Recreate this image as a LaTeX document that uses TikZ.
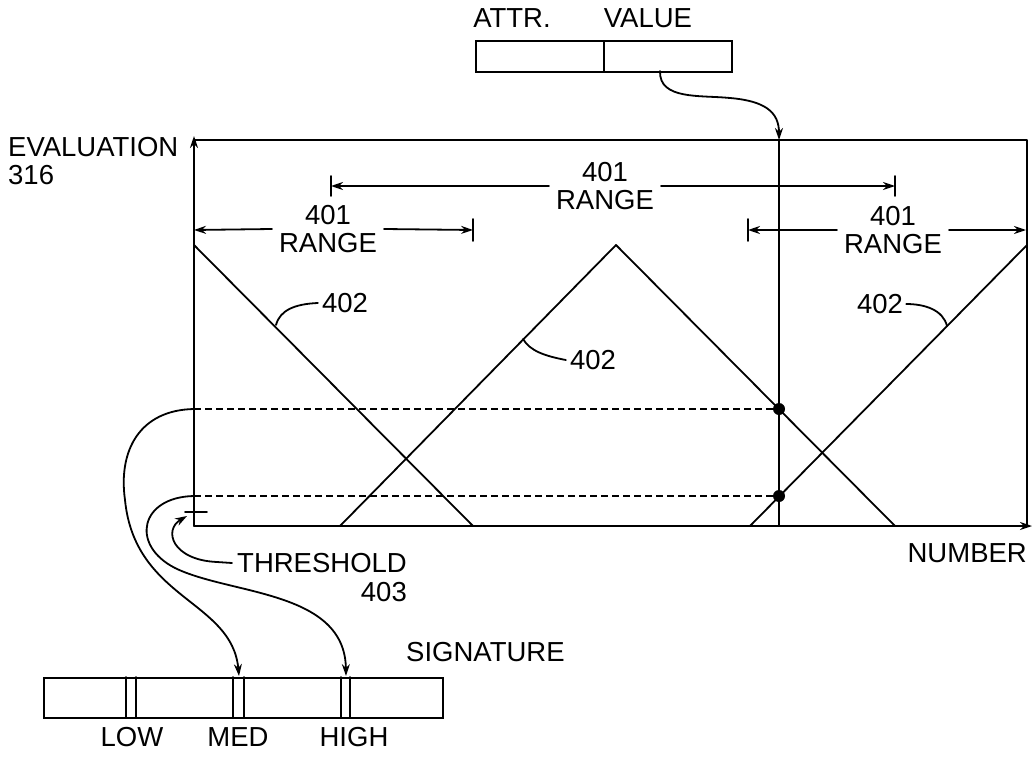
\documentclass[tikz,border=0pt]{standalone}
\usepackage{fontspec}
\setmainfont{Liberation Sans}
\usetikzlibrary{arrows.meta}
\begin{document}
\begin{tikzpicture}[x=1pt,y=-1pt,
  every node/.style={font=\fontsize{27.5}{28}\selectfont, inner sep=0pt},
  ln/.style={line width=1.8pt, line cap=round, line join=round},
  tip/.style={-{Stealth[length=12pt,width=8pt]}},
  lbl/.style={align=center},
  dsh/.style={line width=1.8pt, dash pattern=on 7pt off 4pt},
  cell/.style={draw, line width=1.8pt, inner sep=0pt},
  dotnode/.style={circle, fill=black, minimum size=12pt, inner sep=0pt}]
\useasboundingbox (0,0) rectangle (1032,757);

% ---------- chart frame ----------
\coordinate (O) at (194,526);
\coordinate (Ytop) at (194,136);
\coordinate (Xend) at (1032,526);
\coordinate (TL) at (194,140);
\coordinate (TR) at (1027,140);
\coordinate (BR) at (1027,526);
\draw[ln, tip] (O) -- (Ytop);
\draw[ln, tip] (O) -- (Xend);
\draw[ln] (TL) -- (TR) -- (BR);

\node[anchor=west] (ev) at (8,147) {EVALUATION};
\node[anchor=west] (e316) at (8,175) {316};
\node[anchor=east] (num) at (1027,553) {NUMBER};

% ---------- attribute / value record ----------
\node[cell, minimum width=128pt, minimum height=31pt, anchor=north west] (attrcell) at (475,40) {};
\node[cell, minimum width=128pt, minimum height=31pt, anchor=north west] (valcell) at (603,40) {};
\node (attrlbl) at (512,18) {ATTR.};
\node (vallbl) at (648,18) {VALUE};

\coordinate (vs) at (660,71);
\coordinate (V0) at (779,140);
\coordinate (V1) at (779,526);
\draw[ln] (V0) -- (V1);
\draw[ln, tip] (vs) .. controls (659,100) and (700,95) .. (730,98)
                    .. controls (765,101) and (779,112) .. (V0);

% ---------- ranges ----------
\coordinate (r1a) at (194,230);
\coordinate (r1b) at (473,230);
\node[lbl] (r1) at (328,229) {401\\RANGE};
\draw[ln, tip] ([xshift=-7pt]r1.west) -- (r1a);
\draw[ln, tip] ([xshift=7pt]r1.east) -- (r1b);
\draw[ln] ([yshift=11pt]r1b) -- ([yshift=-11pt]r1b);

\coordinate (r2a) at (331,186);
\coordinate (r2b) at (895,186);
\node[lbl] (r2) at (605,186) {401\\RANGE};
\draw[ln, tip] ([xshift=-7pt]r2.west) -- (r2a);
\draw[ln, tip] ([xshift=7pt]r2.east) -- (r2b);
\draw[ln] ([yshift=10pt]r2a) -- ([yshift=-10pt]r2a);
\draw[ln] ([yshift=10pt]r2b) -- ([yshift=-10pt]r2b);

\coordinate (r3a) at (748,230);
\coordinate (r3b) at (1026,230);
\node[lbl] (r3) at (893,230) {401\\RANGE};
\draw[ln, tip] ([xshift=-7pt]r3.west) -- (r3a);
\draw[ln, tip] ([xshift=7pt]r3.east) -- (r3b);
\draw[ln] ([yshift=11pt]r3a) -- ([yshift=-11pt]r3a);

% ---------- membership functions ----------
\draw[ln] (194,245) -- (473,526);
\draw[ln] (340,526) -- (616,245) -- (895,526);
\draw[ln] (750,526) -- (1027,245);

\node (n1) at (345,303) {402};
\draw[ln] (276,325) .. controls (280,310) and (295,304) .. ([xshift=-4pt]n1.west);
\node (n2) at (593,360) {402};
\draw[ln] (523,339) .. controls (530,351) and (545,356) .. ([xshift=-4pt]n2.west);
\node (n3) at (880,304) {402};
\draw[ln] ([xshift=3pt]n3.east) .. controls (925,304) and (943,310) .. (947,326);

% ---------- evaluated values ----------
\node[dotnode] (d1) at (779,409) {};
\node[dotnode] (d2) at (779,496) {};
\coordinate (a1) at (194,409);
\coordinate (a2) at (194,496);
\draw[dsh] (a1) -- (d1);
\draw[dsh] (a2) -- (d2);

% ---------- threshold ----------
\coordinate (thA) at (185,512);
\coordinate (thB) at (207,512);
\draw[ln] (thA) -- (thB);
\node[anchor=west] (thr) at (237,563) {THRESHOLD};
\node[anchor=east] (n403) at (407,592) {403};
\draw[ln, tip] ([xshift=-5pt]thr.west) -- (217,562) .. controls (172,560) and (163,530) .. (187,516);

% ---------- signature ----------
\node[cell, minimum width=399pt, minimum height=40pt, anchor=north west] (sig) at (43,677) {};
\draw[ln] (126,677) -- (126,717);
\draw[ln] (136,677) -- (136,717);
\draw[ln] (233,677) -- (233,717);
\draw[ln] (244,677) -- (244,717);
\draw[ln] (341,677) -- (341,717);
\draw[ln] (350,677) -- (350,717);
\coordinate (medp) at (239,676);
\coordinate (highp) at (346,676);
\node[anchor=west] (siglbl) at (406,652) {SIGNATURE};
\node (low) at (132,737) {LOW};
\node (med) at (238,737) {MED};
\node (high) at (354,737) {HIGH};

\draw[ln, tip] (a1) .. controls (140,410) and (118,450) .. (125,500)
                    .. controls (135,600) and (232,600) .. (medp);
\draw[ln, tip] (a2) .. controls (140,497) and (130,545) .. (175,568)
                    .. controls (230,595) and (345,590) .. (highp);
\end{tikzpicture}
\end{document}
